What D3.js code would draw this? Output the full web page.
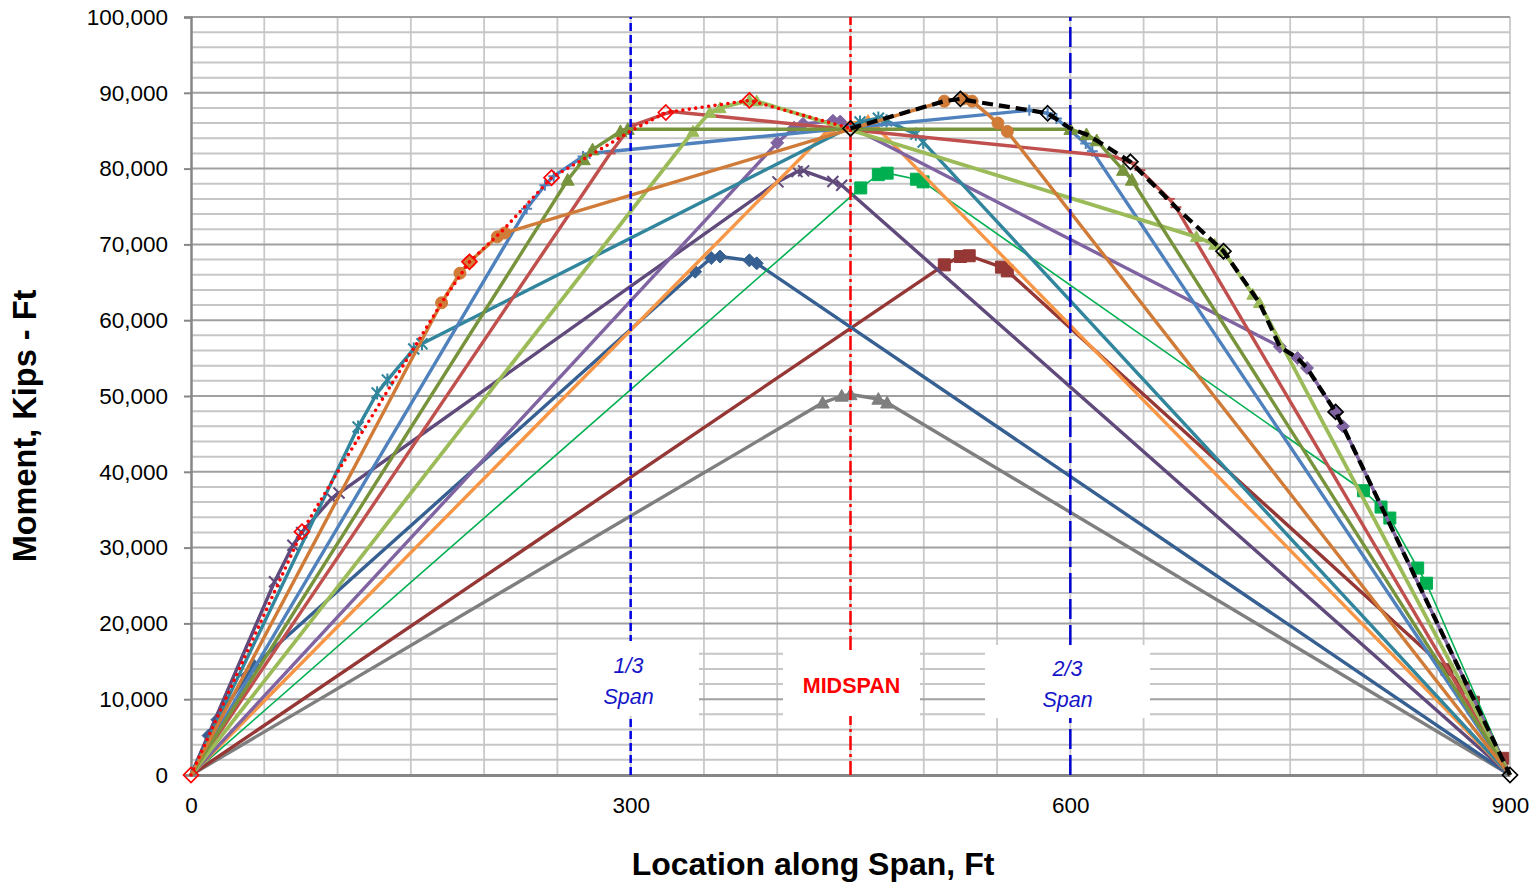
<!DOCTYPE html>
<html><head><meta charset="utf-8">
<script src="https://cdn.jsdelivr.net/npm/d3@7"></script>
<style>body{margin:0;background:#fff;} svg{display:block;}</style>
</head><body>
<svg id="c" width="1539" height="885"></svg>
<script>
// ---------- DATA (x = ft along span, y = moment kip-ft, third value 1 = plotted point with marker) ----------
const xTickLabels = [0, 300, 600, 900];
const yTickLabels = [0,10000,20000,30000,40000,50000,60000,70000,80000,90000,100000];

const gray = [[0,0],[431,49100,1],[444,50000,1],[450,50200,1],[469,49600,1],[475,49100,1],[900,0]];
const darkRed = [[0,0],[514,67300,1],[525,68400,1],[531,68500,1],[553,67000,1],[557,66500,1],[857,13900,1],[868,11500,1],[875,9600,1],[895,2200,1],[900,0]];
const darkBlue = [[0,0],[12,5200,1],[18,7300,1],[38,13100,1],[43,14400,1],[344,66400,1],[355,68200,1],[361,68400,1],[381,67900,1],[386,67500,1],[900,0]];
const darkPurple = [[0,0],[57,25500,1],[69.5,30300,1],[75.5,32000,1],[96,36500,1],[101,37200,1],[400.5,78250,1],[413.5,79600,1],[418,79700,1],[438,78300,1],[444,77800,1],[900,0]];
const green = [[0,0],[457,77450,1],[469,79200,1],[475,79400,1],[495,78600,1],[499.5,78250,1],[800,37500,1],[812,35350,1],[818,33900,1],[837,27300,1],[843,25300,1],[900,0]];
const orange = [[0,0],[436,85300,1],[442,85900,1],[462,86200,1],[466,85800,1],[900,0]];
const purple = [[0,0],[400,83400,1],[411.5,85400,1],[417.6,85900,1],[438,86300,1],[443,86200,1],[743,56500,1],[755,55000,1],[761.5,53700,1],[781,47900,1],[786,46000,1],[900,0]];
const teal = [[0,0],[114,45900,1],[127,50400,1],[134,52100,1],[152,56200,1],[157.6,56900,1],[456.5,86150,1],[469,86650,1],[474.6,86300,1],[494.6,84550,1],[499.6,83500,1],[900,0]];
const blue = [[0,0],[229,74700,1],[241.5,77800,1],[247.5,79000,1],[267.5,81600,1],[272,82000,1],[572,87700,1],[584.5,87300,1],[590.5,86600,1],[610.5,83300,1],[615,82300,1],[900,0]];
const red = [[0,0],[286,82000,1],[298.5,85200,1],[304.5,85900,1],[324.5,87300,1],[329,87500,1],[629,81600,1],[641.5,80800,1],[647.5,79800,1],[667.5,76000,1],[672,74900,1],[900,0]];
const lightOlive = [[0,0],[342.5,84900,1],[354,87400,1],[361,88000,1],[381,89000,1],[386,88900,1],[686,71000,1],[698.5,70000,1],[704.5,69100,1],[724.5,63400,1],[729,62300,1],[900,0]];
const darkOlive = [[0,0],[257,78500,1],[268,81200,1],[274,82500,1],[293,84900,1],[298,85200,1],[600,85200,1],[611,84500,1],[618,83700,1],[636,79800,1],[642,78500,1],[900,0]];
const brown = [[0,0],[171,62300,1],[183.5,66200,1],[190,67700,1],[209,71000,1],[214,71500,1],[514,88900,1],[527,89200,1],[533,88900,1],[550.6,86000,1],[557,84900,1],[900,0]];
const envelopeLeft = [[0,0,1],[75.7,32100,1],[101.7,40500],[152,56300],[171,62300],[190,67700,1],[213,71900],[246,78800,1],[279,82500],[299.5,84900],[324,87400,1],[381,89000,1],[450,85300]];
const envelopeRight = [[450,85300,1],[514,88900],[525,89200,1],[533,88900],[572,87700],[584.5,87300,1],[600,85300],[611,84500],[618,83700],[641,80900,1],[672.5,74800],[704.5,69100,1],[729,62300],[743,56500],[755,55000],[761.5,53700],[781,47900,1],[786,46000],[900,0,1]];
const refLines = [300, 450, 600];

// ---------- STYLES ----------
const series = [
  {d: gray,       c: '#7f7f7f', w: 3.4, mk: 'triangle', s: 6.5},
  {d: darkRed,    c: '#953735', w: 3.4, mk: 'square',   s: 6},
  {d: darkBlue,   c: '#376092', w: 3.4, mk: 'diamond',  s: 6.5},
  {d: darkPurple, c: '#604a7b', w: 3.4, mk: 'x',        s: 5.5},
  {d: green,      c: '#00b050', w: 1.6, mk: 'square',   s: 6},
  {d: orange,     c: '#f79646', w: 3.4, mk: 'triangle', s: 7},
  {d: purple,     c: '#8064a2', w: 3.4, mk: 'diamond',  s: 6.5},
  {d: teal,       c: '#31859c', w: 3.4, mk: 'asterisk', s: 5.5},
  {d: blue,       c: '#4f81bd', w: 3.4, mk: 'plus',     s: 5.5},
  {d: red,        c: '#c0504d', w: 3.4, mk: 'dash',     s: 5.5},
  {d: lightOlive, c: '#9bbb59', w: 3.8, mk: 'triangle', s: 6},
  {d: darkOlive,  c: '#77933c', w: 3.4, mk: 'triangle', s: 6.5},
  {d: brown,      c: '#d07b37', w: 3.4, mk: 'circle',   s: 6}
];

const svg = d3.select('#c');
const x = d3.scaleLinear().domain([0, 900]).range([191, 1510]);
const y = d3.scaleLinear().domain([0, 100000]).range([775, 17]);
const FONT = "'Liberation Sans', Arial, sans-serif";

// gridlines
const g = svg.append('g');
g.selectAll('.vg').data(d3.range(50, 901, 50)).join('line')
  .attr('x1', d => x(d)).attr('x2', d => x(d)).attr('y1', y(0)).attr('y2', y(100000))
  .attr('stroke', '#c9c9c9').attr('stroke-width', 1.8);
g.selectAll('.hg').data(d3.range(2000, 100001, 2000).filter(v => v % 10000 !== 0)).join('line')
  .attr('x1', x(0)).attr('x2', x(900)).attr('y1', d => y(d)).attr('y2', d => y(d))
  .attr('stroke', '#c6c6c6').attr('stroke-width', 2);
g.selectAll('.hm').data(yTickLabels.slice(1)).join('line')
  .attr('x1', x(0)).attr('x2', x(900)).attr('y1', d => y(d)).attr('y2', d => y(d))
  .attr('stroke', '#a0a0a0').attr('stroke-width', 2);

// axes
const yAxis = d3.axisLeft(y).tickValues(yTickLabels).tickSize(7).tickFormat(d3.format(','));
const ya = svg.append('g').attr('transform', `translate(${x(0)},0)`).call(yAxis);
ya.select('.domain').attr('stroke', '#868686').attr('stroke-width', 2.5);
ya.selectAll('.tick line').attr('stroke', '#868686').attr('stroke-width', 2);
ya.selectAll('.tick text').attr('x', -23).attr('font-family', FONT).attr('font-size', 22.5).attr('fill', '#000');

const xAxis = d3.axisBottom(x).tickValues(xTickLabels).tickSize(0).tickFormat(d3.format('d'));
const xa = svg.append('g').attr('transform', `translate(0,${y(0)})`).call(xAxis);
xa.select('.domain').attr('stroke', '#868686').attr('stroke-width', 3);
xa.selectAll('.tick text').attr('y', 22).attr('font-family', FONT).attr('font-size', 22.5).attr('fill', '#000');

// markers
function markerPath(t, s) {
  switch (t) {
    case 'diamond': return `M0,${-s}L${s},0L0,${s}L${-s},0Z`;
    case 'square': return `M${-s},${-s}H${s}V${s}H${-s}Z`;
    case 'triangle': return `M0,${-s}L${s},${s*0.8}L${-s},${s*0.8}Z`;
    case 'x': return `M${-s},${-s}L${s},${s}M${-s},${s}L${s},${-s}`;
    case 'asterisk': return `M${-s},${-s}L${s},${s}M${-s},${s}L${s},${-s}M0,${-s*1.2}V${s*1.2}`;
    case 'plus': return `M0,${-s}V${s}M${-s},0H${s}`;
    case 'dash': return `M${-s},0H${s}`;
    case 'circle': return `M${-s},0A${s},${s} 0 1,0 ${s},0A${s},${s} 0 1,0 ${-s},0Z`;
  }
}
const stroked = {x: 1, asterisk: 1, plus: 1, dash: 1};
const line = d3.line().x(d => x(d[0])).y(d => y(d[1]));

const sg = svg.append('g');
series.forEach(se => {
  sg.append('path').attr('d', line(se.d)).attr('fill', 'none')
    .attr('stroke', se.c).attr('stroke-width', se.w).attr('stroke-linejoin', 'round');
  sg.selectAll(null).data(se.d.filter(p => p[2])).join('path')
    .attr('transform', p => `translate(${x(p[0])},${y(p[1])})`)
    .attr('d', markerPath(se.mk, se.s))
    .attr('fill', stroked[se.mk] ? 'none' : se.c)
    .attr('stroke', se.c).attr('stroke-width', stroked[se.mk] ? 2 : 1);
});

// reference lines
const refStyle = [
  {c: '#0000e6', dash: '8,4', w: 2.5},
  {c: '#ff0000', dash: '14,4,3,4', w: 2.5},
  {c: '#0000cc', dash: '20,6', w: 2.5}
];
svg.append('g').selectAll('line').data(refLines).join('line')
  .attr('x1', d => x(d)).attr('x2', d => x(d)).attr('y1', y(0)).attr('y2', y(100000))
  .attr('stroke', (d, i) => refStyle[i].c).attr('stroke-width', (d, i) => refStyle[i].w)
  .attr('stroke-dasharray', (d, i) => refStyle[i].dash);

// envelopes
svg.append('path').attr('d', line(envelopeLeft)).attr('fill', 'none').attr('stroke', '#ff0000')
  .attr('stroke-width', 3.6).attr('stroke-dasharray', '0,6.5').attr('stroke-linecap', 'round');
svg.selectAll(null).data(envelopeLeft.filter(p => p[2])).join('path')
  .attr('transform', p => `translate(${x(p[0])},${y(p[1])})`)
  .attr('d', markerPath('diamond', 7.5)).attr('fill', 'none').attr('stroke', '#ff0000').attr('stroke-width', 1.7);
svg.append('path').attr('d', line(envelopeRight)).attr('fill', 'none').attr('stroke', '#000')
  .attr('stroke-width', 4.2).attr('stroke-dasharray', '11,6');
svg.selectAll(null).data(envelopeRight.filter(p => p[2])).join('path')
  .attr('transform', p => `translate(${x(p[0])},${y(p[1])})`)
  .attr('d', markerPath('diamond', 7.5)).attr('fill', 'none').attr('stroke', '#000').attr('stroke-width', 1.7);

// label boxes
const boxes = [
  {x0: 558, x1: 699, y0: 641, y1: 716, lines: ['1/3', 'Span'], c: '#1414c8', italic: true, bold: false},
  {x0: 783, x1: 920, y0: 650, y1: 716, lines: ['MIDSPAN'], c: '#ff0000', italic: false, bold: true},
  {x0: 985, x1: 1150, y0: 645, y1: 718, lines: ['2/3', 'Span'], c: '#1414c8', italic: true, bold: false}
];
boxes.forEach(b => {
  svg.append('rect').attr('x', b.x0).attr('y', b.y0).attr('width', b.x1 - b.x0).attr('height', b.y1 - b.y0).attr('fill', '#fff');
  const cx = (b.x0 + b.x1) / 2, cy = (b.y0 + b.y1) / 2 + 2;
  b.lines.forEach((t, i) => {
    svg.append('text').attr('x', cx).attr('y', cy + (i - (b.lines.length - 1) / 2) * 31)
      .attr('dy', '0.35em').attr('text-anchor', 'middle').attr('font-family', FONT)
      .attr('font-size', 21.5).attr('font-style', b.italic ? 'italic' : 'normal')
      .attr('font-weight', b.bold ? 'bold' : 'normal').attr('fill', b.c).text(t);
  });
});

// axis titles
svg.append('text').attr('x', 813).attr('y', 864).attr('dy', '0.35em').attr('text-anchor', 'middle')
  .attr('font-family', FONT).attr('font-weight', 'bold').attr('font-size', 32).text('Location along Span, Ft');
svg.append('text').attr('transform', 'translate(25,426) rotate(-90)').attr('dy', '0.35em').attr('text-anchor', 'middle')
  .attr('font-family', FONT).attr('font-weight', 'bold').attr('font-size', 32.5).text('Moment, Kips - Ft');
</script>
</body></html>
